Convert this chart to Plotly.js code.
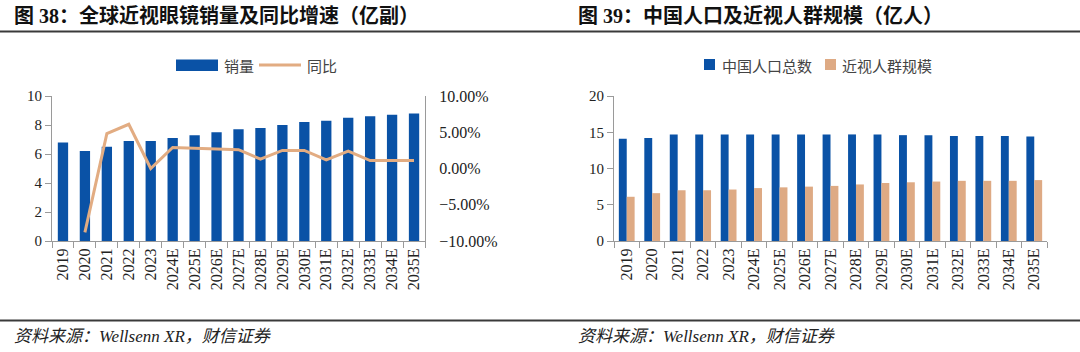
<!DOCTYPE html>
<html>
<head>
<meta charset="utf-8">
<script src="https://cdn.plot.ly/plotly-3.0.1.min.js"></script>
<style>
html,body{margin:0;padding:0;background:#fff;}
#chart{width:1080px;height:352px;}
</style>
</head>
<body>
<div id="chart"></div>
<script>
// ---------- data ----------
const years = ["2019","2020","2021","2022","2023","2024E","2025E","2026E","2027E","2028E","2029E","2030E","2031E","2032E","2033E","2034E","2035E"];
const glassesSales = [6.8,6.2,6.5,6.9,6.9,7.1,7.3,7.5,7.7,7.8,8.0,8.2,8.3,8.5,8.6,8.7,8.8];   // 亿副
const yoyYears = ["2020","2021","2022","2023","2024E","2025E","2026E","2027E","2028E","2029E","2030E","2031E","2032E","2033E","2034E","2035E"];
const yoyGrowth = [-8.8,4.8,6.1,0.0,2.9,2.8,2.7,2.6,1.3,2.5,2.5,1.2,2.4,1.1,1.1,1.1];          // %
const chinaPopulation = [14.1,14.2,14.7,14.7,14.7,14.7,14.7,14.7,14.7,14.7,14.7,14.6,14.6,14.5,14.5,14.5,14.4]; // 亿人
const myopiaPopulation = [6.1,6.6,7.0,7.0,7.1,7.3,7.4,7.5,7.6,7.8,8.0,8.1,8.2,8.3,8.3,8.3,8.4];  // 亿人
const leftTitle = "图 <b>38</b>：全球近视眼镜销量及同比增速（亿副）";
const rightTitle = "图 <b>39</b>：中国人口及近视人群规模（亿人）";
const sourceText = "资料来源：Wellsenn XR，财信证券";
const legendLeft = ["销量","同比"];
const legendRight = ["中国人口总数","近视人群规模"];

// ---------- style ----------
const W = 1080, H = 352;
const BLUE = "#0A52A6", TAN = "#E2AC82", ORANGE = "#DEAA84";
const AXC = "#9a9a9a";
const px = v => v / W;
const py = v => 1 - v / H;
const SERIF = "'Liberation Serif', 'DejaVu Serif', serif";
const yTickFont = {family: SERIF, size: 15, color: "#222"};
const xTickFont = {family: SERIF, size: 16, color: "#222"};
const cjk = "'Liberation Serif', 'Noto Sans CJK SC', sans-serif";
const legFont = {family: "'Noto Sans CJK SC'", size: 15, color: "#444"};

const traces = [
  {type: "bar", x: years, y: glassesSales, xaxis: "x", yaxis: "y",
   marker: {color: BLUE}, width: 0.47, showlegend: false, hoverinfo: "skip"},
  {type: "scatter", mode: "lines", x: yoyYears, y: yoyGrowth, xaxis: "x", yaxis: "y2",
   line: {color: TAN, width: 3}, showlegend: false, hoverinfo: "skip"},
  {type: "bar", x: years, y: chinaPopulation, xaxis: "x2", yaxis: "y3",
   marker: {color: BLUE}, width: 0.31, offset: -0.31, showlegend: false, hoverinfo: "skip"},
  {type: "bar", x: years, y: myopiaPopulation, xaxis: "x2", yaxis: "y3",
   marker: {color: ORANGE}, width: 0.31, offset: 0, showlegend: false, hoverinfo: "skip"}
];

const xCommon = {type: "category", categoryorder: "array", categoryarray: years,
  showline: true, linecolor: AXC, linewidth: 1, ticks: "outside", tickson: "boundaries",
  ticklen: 6, tickcolor: AXC, tickangle: -90, tickfont: xTickFont, showgrid: false,
  zeroline: false, fixedrange: true, automargin: false};
const yCommon = {showline: true, linecolor: AXC, linewidth: 1, ticks: "outside", ticklen: 6,
  tickcolor: AXC, tickfont: yTickFont, showgrid: false, zeroline: false, fixedrange: true, automargin: false};

const layout = {
  width: W, height: H,
  margin: {l: 0, r: 0, t: 0, b: 0, pad: 0},
  paper_bgcolor: "#fff", plot_bgcolor: "rgba(0,0,0,0)",
  showlegend: false,
  barmode: "overlay",
  xaxis: Object.assign({}, xCommon, {domain: [px(52), px(425)], anchor: "y"}),
  yaxis: Object.assign({}, yCommon, {domain: [py(241), py(96)], range: [0, 10], dtick: 2, anchor: "x"}),
  yaxis2: Object.assign({}, yCommon, {overlaying: "y", side: "right", anchor: "x",
    range: [-10, 10], dtick: 5, tickformat: ".2f", ticksuffix: "%", ticks: "", ticklen: 0,
    ticklabelstandoff: 10, tickfont: {family: SERIF, size: 16, color: "#222"}}),
  xaxis2: Object.assign({}, xCommon, {domain: [px(614), px(1047)], anchor: "y3"}),
  yaxis3: Object.assign({}, yCommon, {domain: [py(241), py(96)], range: [0, 20], dtick: 5, anchor: "x2"}),
  shapes: [
    {type: "line", xref: "paper", yref: "paper", x0: 0, x1: 1, y0: py(31.5), y1: py(31.5), line: {color: "#3a3a3a", width: 2}},
    {type: "line", xref: "paper", yref: "paper", x0: 0, x1: 1, y0: py(320.5), y1: py(320.5), line: {color: "#3a3a3a", width: 2}},
    {type: "rect", xref: "paper", yref: "paper", x0: px(176), x1: px(218), y0: py(71), y1: py(59.5), fillcolor: BLUE, line: {width: 0}},
    {type: "line", xref: "paper", yref: "paper", x0: px(259), x1: px(301), y0: py(65), y1: py(65), line: {color: TAN, width: 3}},
    {type: "rect", xref: "paper", yref: "paper", x0: px(704), x1: px(715), y0: py(70), y1: py(59), fillcolor: BLUE, line: {width: 0}},
    {type: "rect", xref: "paper", yref: "paper", x0: px(825), x1: px(836), y0: py(70), y1: py(59), fillcolor: ORANGE, line: {width: 0}}
  ],
  annotations: [
    {xref: "paper", yref: "paper", x: px(12), y: py(16), xanchor: "left", yanchor: "middle", showarrow: false,
     text: leftTitle, font: {family: cjk, size: 20, color: "#111", weight: 700}},
    {xref: "paper", yref: "paper", x: px(576), y: py(16), xanchor: "left", yanchor: "middle", showarrow: false,
     text: rightTitle, font: {family: cjk, size: 20, color: "#111", weight: 700}},
    {xref: "paper", yref: "paper", x: px(12), y: py(336), xanchor: "left", yanchor: "middle", showarrow: false,
     text: sourceText, font: {family: cjk, size: 17, color: "#222", style: "italic"}},
    {xref: "paper", yref: "paper", x: px(576), y: py(336), xanchor: "left", yanchor: "middle", showarrow: false,
     text: sourceText, font: {family: cjk, size: 17, color: "#222", style: "italic"}},
    {xref: "paper", yref: "paper", x: px(222), y: py(65), xanchor: "left", yanchor: "middle", showarrow: false,
     text: legendLeft[0], font: legFont},
    {xref: "paper", yref: "paper", x: px(305), y: py(65), xanchor: "left", yanchor: "middle", showarrow: false,
     text: legendLeft[1], font: legFont},
    {xref: "paper", yref: "paper", x: px(720), y: py(65), xanchor: "left", yanchor: "middle", showarrow: false,
     text: legendRight[0], font: legFont},
    {xref: "paper", yref: "paper", x: px(840), y: py(65), xanchor: "left", yanchor: "middle", showarrow: false,
     text: legendRight[1], font: legFont}
  ]
};

Plotly.newPlot("chart", traces, layout, {displayModeBar: false, staticPlot: true});
</script>
</body>
</html>
